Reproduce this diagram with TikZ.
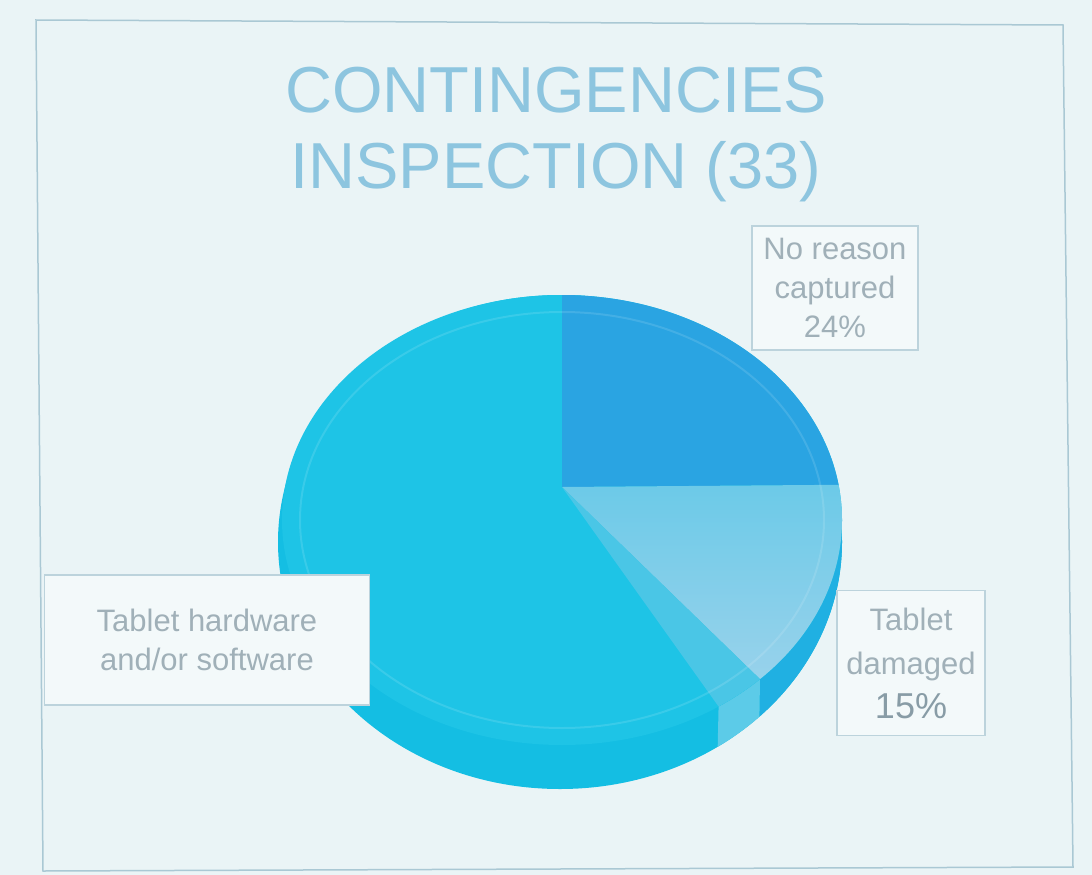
\documentclass[tikz,border=0pt]{standalone}
\usepackage{fontspec}
\setmainfont{Liberation Sans}
\usetikzlibrary{calc}
\definecolor{paper}{RGB}{234, 244, 246}
\definecolor{frameline}{RGB}{170, 200, 212}
\definecolor{heading}{RGB}{141, 197, 223}
\definecolor{labeltext}{RGB}{160, 176, 184}
\definecolor{labeldark}{RGB}{136, 156, 166}
\definecolor{labeledge}{RGB}{188, 211, 220}
\definecolor{cyanface}{RGB}{30, 196, 230}
\definecolor{cyanside}{RGB}{20, 190, 227}
\definecolor{blueface}{RGB}{42, 164, 226}
\definecolor{paleface}{RGB}{152, 210, 235}
\definecolor{paletop}{RGB}{108, 202, 232}
\definecolor{paleside}{RGB}{32, 176, 226}
\definecolor{midface}{RGB}{74, 198, 230}
\definecolor{midside}{RGB}{92, 203, 232}
\newcommand*{\pierx}{280}
\newcommand*{\piery}{225}

\begin{document}
\begin{tikzpicture}[x=1pt, y=1pt,
  titletext/.style={text=heading, font=\fontsize{65}{76}\selectfont, anchor=base},
  labelbox/.style={draw=labeledge, line width=1.2pt, fill=white!45!paper, text=labeltext,
    align=center, inner sep=0pt, font=\fontsize{31}{39}\selectfont}]
  \fill[paper] (0, 0) rectangle (1092, -875);
  \useasboundingbox (0, 0) rectangle (1092, -875);
  \draw[frameline, line width=1.5pt] (36, -20) -- (1063, -25) -- (1073, -867) -- (43, -871) -- cycle;

  \node[titletext] (titletop) at (556, -112) {CONTINGENCIES};
  \node[titletext] (titlebottom) at (556, -188) {INSPECTION (33)};

  % pie: outline (with the side) first, then the top face
  \coordinate (centre) at (562, -520);
  \coordinate (outline) at (560, -542);
  \coordinate (apex) at (562, -487);
  \fill[cyanside] (outline) ellipse[x radius=282, y radius=247];
  \fill[paleside] ($(centre) + (0:\pierx pt and \piery pt)$)
    arc[start angle=0, end angle=-45, x radius=\pierx, y radius=\piery]
    -- ($(outline) + (-45:282pt and 247pt)$)
    arc[start angle=-45, end angle=5, x radius=282, y radius=247] -- cycle;
  \fill[midside] ($(centre) + (-45:\pierx pt and \piery pt)$)
    arc[start angle=-45, end angle=-56, x radius=\pierx, y radius=\piery]
    -- ($(outline) + (-56:282pt and 247pt)$)
    arc[start angle=-56, end angle=-45, x radius=282, y radius=247] -- cycle;

  \fill[cyanface] (centre) ellipse[x radius=\pierx, y radius=\piery];
  \fill[blueface] (apex) -- ($(centre) + (90:\pierx pt and \piery pt)$)
    arc[start angle=90, end angle=9, x radius=\pierx, y radius=\piery] -- cycle;
  \shade[top color=paletop, bottom color=paleface] (apex) -- ($(centre) + (9:\pierx pt and \piery pt)$)
    arc[start angle=9, end angle=-45, x radius=\pierx, y radius=\piery] -- cycle;
  \fill[midface] (apex) -- ($(centre) + (-45:\pierx pt and \piery pt)$)
    arc[start angle=-45, end angle=-56, x radius=\pierx, y radius=\piery] -- cycle;
  \draw[white, opacity=0.12, line width=2pt] (centre) ellipse[x radius=262, y radius=208];

  % labels
  \node[labelbox, minimum width=166, minimum height=124] (reasonlabel) at (835, -288)
    {No reason\\captured\\24\%};
  \node[labelbox, minimum width=148, minimum height=145, font=\fontsize{31}{44}\selectfont]
    (damagedlabel) at (911, -663)
    {Tablet\\damaged\\{\fontsize{36}{40}\selectfont\color{labeldark}15\%}};
  \node[labelbox, minimum width=325, minimum height=130] (hardwarelabel) at (207, -640)
    {Tablet hardware\\and/or software};
\end{tikzpicture}
\end{document}
